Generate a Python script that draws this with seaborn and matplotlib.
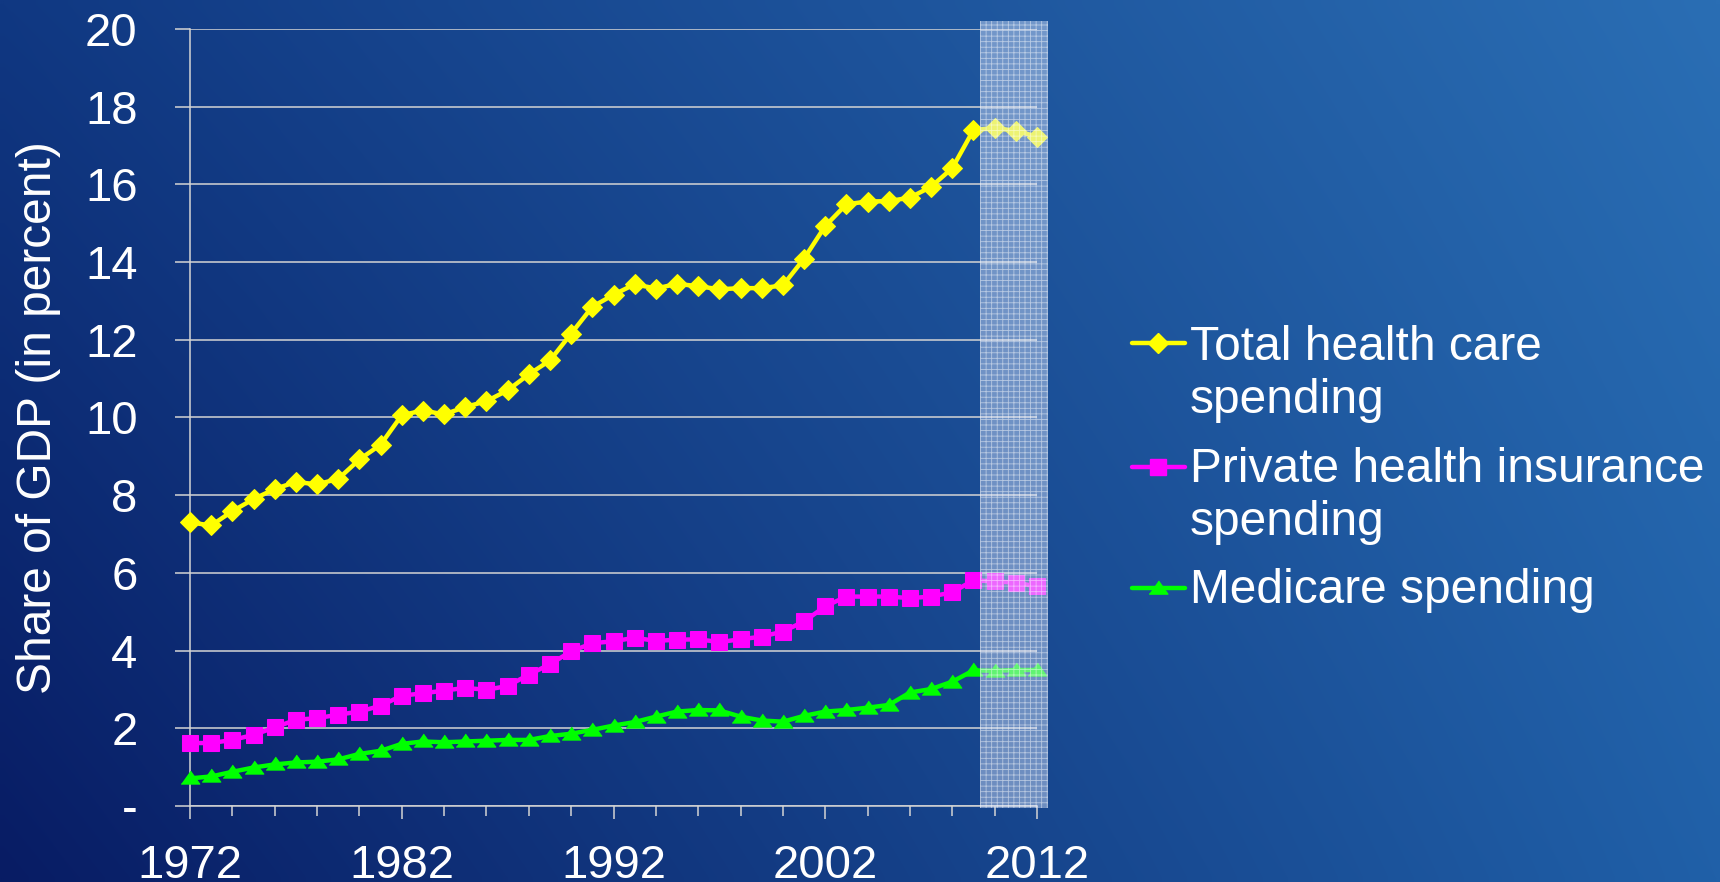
import numpy as np
import pandas as pd
import matplotlib
matplotlib.use("Agg")
import matplotlib.pyplot as plt
from matplotlib.lines import Line2D
import seaborn as sns

# values (share of GDP, percent)
years = list(range(1972, 2013))
total_spending = [7.30, 7.22, 7.59, 7.90, 8.16, 8.34, 8.28, 8.42, 8.92, 9.30,
                  10.06, 10.18, 10.08, 10.27, 10.42, 10.70, 11.11, 11.47, 12.16, 12.85,
                  13.16, 13.43, 13.32, 13.44, 13.38, 13.30, 13.33, 13.33, 13.40, 14.09,
                  14.93, 15.49, 15.56, 15.57, 15.66, 15.94, 16.42, 17.40, 17.45, 17.38,
                  17.23]
private_spending = [1.62, 1.62, 1.70, 1.83, 2.02, 2.22, 2.26, 2.35, 2.43, 2.58,
                    2.84, 2.90, 2.97, 3.04, 2.99, 3.09, 3.38, 3.65, 3.98, 4.19,
                    4.24, 4.33, 4.25, 4.28, 4.29, 4.22, 4.29, 4.36, 4.49, 4.75,
                    5.14, 5.39, 5.39, 5.39, 5.35, 5.39, 5.50, 5.81, 5.78, 5.75,
                    5.65]
medicare_spending = [0.71, 0.76, 0.88, 0.99, 1.07, 1.12, 1.14, 1.20, 1.34, 1.42,
                     1.60, 1.66, 1.64, 1.66, 1.68, 1.70, 1.70, 1.80, 1.86, 1.96,
                     2.07, 2.16, 2.30, 2.43, 2.47, 2.46, 2.30, 2.20, 2.17, 2.32,
                     2.43, 2.47, 2.53, 2.60, 2.92, 3.01, 3.20, 3.49, 3.48, 3.50,
                     3.50]
series_labels = ["Total health care\nspending", "Private health insurance\nspending",
                 "Medicare spending"]
y_ticks = [0, 2, 4, 6, 8, 10, 12, 14, 16, 18, 20]
y_ticklabels = ["-", "2", "4", "6", "8", "10", "12", "14", "16", "18", "20"]
x_ticks = [1972, 1982, 1992, 2002, 2012]
shade_start, shade_end = 2009.3, 2012.5

df = pd.DataFrame({"year": years, "total": total_spending,
                   "private": private_spending, "medicare": medicare_spending})

sns.set_style("white")
plt.rcParams["font.family"] = ["Liberation Sans", "DejaVu Sans"]
plt.rcParams["hatch.linewidth"] = 0.6

fig = plt.figure(figsize=(17.2, 8.82), dpi=100)

# gradient background
bg = fig.add_axes([0, 0, 1, 1], zorder=-10)
tl = np.array([16, 56, 130]) / 255
tr = np.array([42, 110, 180]) / 255
bl = np.array([8, 28, 100]) / 255
br = np.array([32, 96, 168]) / 255
u = np.linspace(0, 1, 200)[None, :, None]
v = np.linspace(0, 1, 100)[:, None, None]
grad = (1 - v) * ((1 - u) * tl + u * tr) + v * ((1 - u) * bl + u * br)
bg.imshow(grad, aspect="auto", extent=[0, 1, 0, 1], interpolation="bilinear")
bg.axis("off")

ax = fig.add_axes([0.1105, 0.0862, 0.4924, 0.8809])
ax.set_facecolor("none")

gridc = "#d4d4d4"
tri = [(-1, -0.6), (1, -0.6), (0, 0.8)]
sns.lineplot(data=df, x="year", y="total", ax=ax, color="#ffff00", lw=3.2,
             marker="D", ms=10.5, mec="#ffff00", clip_on=False, zorder=3)
sns.lineplot(data=df, x="year", y="private", ax=ax, color="#ff00ff", lw=3.2,
             marker="s", ms=11, mec="#ff00ff", clip_on=False, zorder=3)
sns.lineplot(data=df, x="year", y="medicare", ax=ax, color="#00ff00", lw=3.2,
             marker=tri, ms=13.5, mec="#00ff00", clip_on=False, zorder=3)

# shaded projection period
ax.axvspan(shade_start, shade_end, ymin=-0.003, ymax=1.01, facecolor=(0.85, 0.9, 1.0, 0.45),
           edgecolor=(1, 1, 1, 0.5), hatch="+++", lw=0, zorder=5, clip_on=False)

ax.set_xlim(1972, 2012)
ax.set_ylim(0, 20)
ax.set_yticks(y_ticks)
ax.set_yticklabels(y_ticklabels)
ax.set_xticks(x_ticks)
ax.set_xticks(list(range(1972, 2013, 2)), minor=True)
ax.yaxis.grid(True, color=gridc, lw=1.1, zorder=1)
ax.set_axisbelow(True)

for side in ["top", "right"]:
    ax.spines[side].set_visible(False)
for side in ["left", "bottom"]:
    ax.spines[side].set_color(gridc)
    ax.spines[side].set_linewidth(1.1)

ax.tick_params(axis="y", which="major", direction="out", length=10.8, width=1.1,
               color=gridc, labelcolor="white", labelsize=34, pad=27, left=True)
ax.tick_params(axis="x", which="major", direction="out", length=9.4, width=1.1,
               color=gridc, labelcolor="white", labelsize=34, pad=18, bottom=True)
ax.tick_params(axis="x", which="minor", direction="out", length=7.2, width=1.1,
               color=gridc, bottom=True)

ax.set_xlabel("")
ax.set_ylabel("Share of GDP (in percent)", color="white", fontsize=34.5)
ax.yaxis.set_label_coords(-0.152, 0.5)

# legend drawn beside the plot
W, H = 1720.0, 882.0
handle_styles = [("#ffff00", "D", 10.5), ("#ff00ff", "s", 11), ("#00ff00", tri, 13.5)]
handle_y = [343, 467, 588]
baselines = [[360, 413], [482, 535], [603]]
for (col, mk, ms), hy, bl_list, lab in zip(handle_styles, handle_y, baselines, series_labels):
    yy = 1 - hy / H
    fig.add_artist(Line2D([1132 / W, 1158 / W, 1185 / W], [yy, yy, yy], color=col, lw=3.2,
                          marker=mk, ms=ms, mec=col, markevery=[1],
                          transform=fig.transFigure))
    for line, b in zip(lab.split("\n"), bl_list):
        fig.text(1190 / W, 1 - b / H, line, color="white", fontsize=34.5, va="baseline", ha="left")

fig.savefig("out.png", dpi=100)
